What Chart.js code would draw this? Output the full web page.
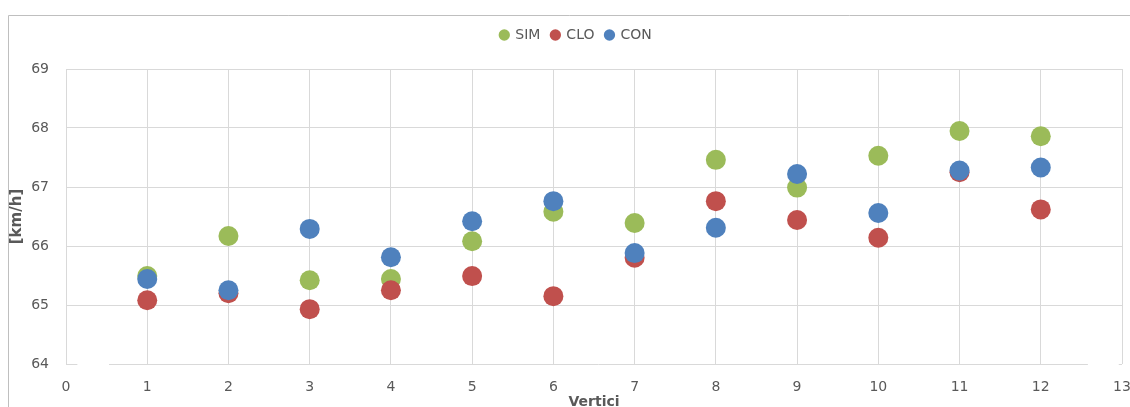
<!DOCTYPE html>
<html>
<head>
<meta charset="utf-8">
<script src="https://cdn.jsdelivr.net/npm/chart.js@4/dist/chart.umd.min.js"></script>
<style>
  html, body { margin: 0; padding: 0; background: #ffffff; }
  #wrap { width: 1130px; height: 407px; position: relative; }
</style>
</head>
<body>
<div id="wrap"><canvas id="c" width="1130" height="407"></canvas></div>
<script>
// Vertex numbers along the route
const vertici = [1, 2, 3, 4, 5, 6, 7, 8, 9, 10, 11, 12];
// Mean speed per vertex [km/h]
const sim = [65.49, 66.17, 65.42, 65.44, 66.08, 66.58, 66.39, 67.46, 66.99, 67.53, 67.95, 67.86];
const clo = [65.08, 65.20, 64.93, 65.25, 65.49, 65.15, 65.80, 66.76, 66.44, 66.14, 67.25, 66.62];
const con = [65.44, 65.25, 66.29, 65.81, 66.42, 66.76, 65.88, 66.31, 67.22, 66.56, 67.28, 67.33];
const seriesNames = ['SIM', 'CLO', 'CON'];
const seriesColors = ['#9BBB59', '#C0504D', '#4F81BD'];
const xTicks = [0, 13];
const yTicks = [64, 69];

const toPoints = (vals) => vals.map((v, i) => ({ x: vertici[i], y: v }));
const allSeries = [sim, clo, con];

const textColor = '#595959';
const gridColor = '#d9d9d9';
const baseFont = 'DejaVu Sans';

// Pieces of the bottom (64) line that are drawn; the rest is left open
const baseLineRuns = [[0, 0.14], [0.53, 12.58], [12.96, 13]];

// Fixed legend band height, the outer frame and the broken base line
const frame = {
  id: 'frame',
  beforeUpdate(chart) {
    if (chart.legend && !chart.legend._fixed) {
      const fit = chart.legend.fit;
      chart.legend.fit = function () { fit.call(this); this.height = 52; };
      chart.legend._fixed = true;
    }
  },
  beforeDraw(chart) {
    const ctx = chart.ctx;
    ctx.save();
    ctx.fillStyle = '#ffffff';
    ctx.fillRect(0, 0, chart.width, chart.height);
    ctx.strokeStyle = '#bfbfbf';
    ctx.lineWidth = 1;
    ctx.beginPath();
    ctx.moveTo(8.5, chart.height);
    ctx.lineTo(8.5, 15.5);
    ctx.lineTo(chart.width, 15.5);
    ctx.stroke();
    ctx.restore();
  },
  beforeDatasetsDraw(chart) {
    const { x, y } = chart.scales;
    const ctx = chart.ctx;
    const py = Math.round(y.getPixelForValue(yTicks[0])) + 0.5;
    ctx.save();
    ctx.strokeStyle = gridColor;
    ctx.lineWidth = 1;
    ctx.beginPath();
    baseLineRuns.forEach(([a, b]) => {
      ctx.moveTo(x.getPixelForValue(a), py);
      ctx.lineTo(x.getPixelForValue(b), py);
    });
    ctx.stroke();
    ctx.restore();
  }
};

new Chart(document.getElementById('c'), {
  type: 'scatter',
  data: {
    datasets: allSeries.map((vals, i) => ({
      label: seriesNames[i],
      data: toPoints(vals),
      backgroundColor: seriesColors[i],
      borderColor: seriesColors[i],
      borderWidth: 0,
      pointRadius: 10,
      pointHoverRadius: 10,
      order: allSeries.length - 1 - i
    }))
  },
  options: {
    responsive: false,
    animation: false,
    events: [],
    layout: { autoPadding: false, padding: { left: 30, right: 8, top: 17, bottom: 0 } },
    plugins: {
      tooltip: { enabled: false },
      legend: {
        position: 'top',
        align: 'center',
        labels: {
          usePointStyle: true,
          pointStyle: 'circle',
          boxWidth: 8,
          boxHeight: 8,
          padding: 11,
          color: textColor,
          font: { family: baseFont, size: 14 },
          sort: (a, b) => a.datasetIndex - b.datasetIndex
        }
      }
    },
    scales: {
      x: {
        type: 'linear',
        min: xTicks[0],
        max: xTicks[1],
        border: { display: false },
        grid: { color: gridColor, drawTicks: false },
        ticks: {
          stepSize: 1,
          padding: 15,
          color: textColor,
          font: { family: baseFont, size: 14 },
          maxRotation: 0
        },
        title: {
          display: true,
          text: 'Vertici',
          color: textColor,
          font: { family: baseFont, size: 14, weight: 'bold' },
          padding: { top: 0, bottom: -4 }
        },
        afterFit(s) { s.height = 43; s.paddingLeft = 0; s.paddingRight = 0; }
      },
      y: {
        min: yTicks[0],
        max: yTicks[1],
        border: { display: false },
        grid: {
          color: (c) => (c.tick && c.tick.value === yTicks[0] ? 'rgba(0,0,0,0)' : gridColor),
          drawTicks: false
        },
        ticks: {
          stepSize: 1,
          padding: 17,
          color: textColor,
          font: { family: baseFont, size: 14 }
        },
        title: {
          display: true,
          text: '[km/h]',
          color: textColor,
          font: { family: baseFont, size: 15, weight: 'bold' },
          padding: { top: -22, bottom: 0 }
        },
        afterFit(s) { s.width = 36; s.paddingTop = 0; s.paddingBottom = 0; }
      }
    }
  },
  plugins: [frame]
});
</script>
</body>
</html>
